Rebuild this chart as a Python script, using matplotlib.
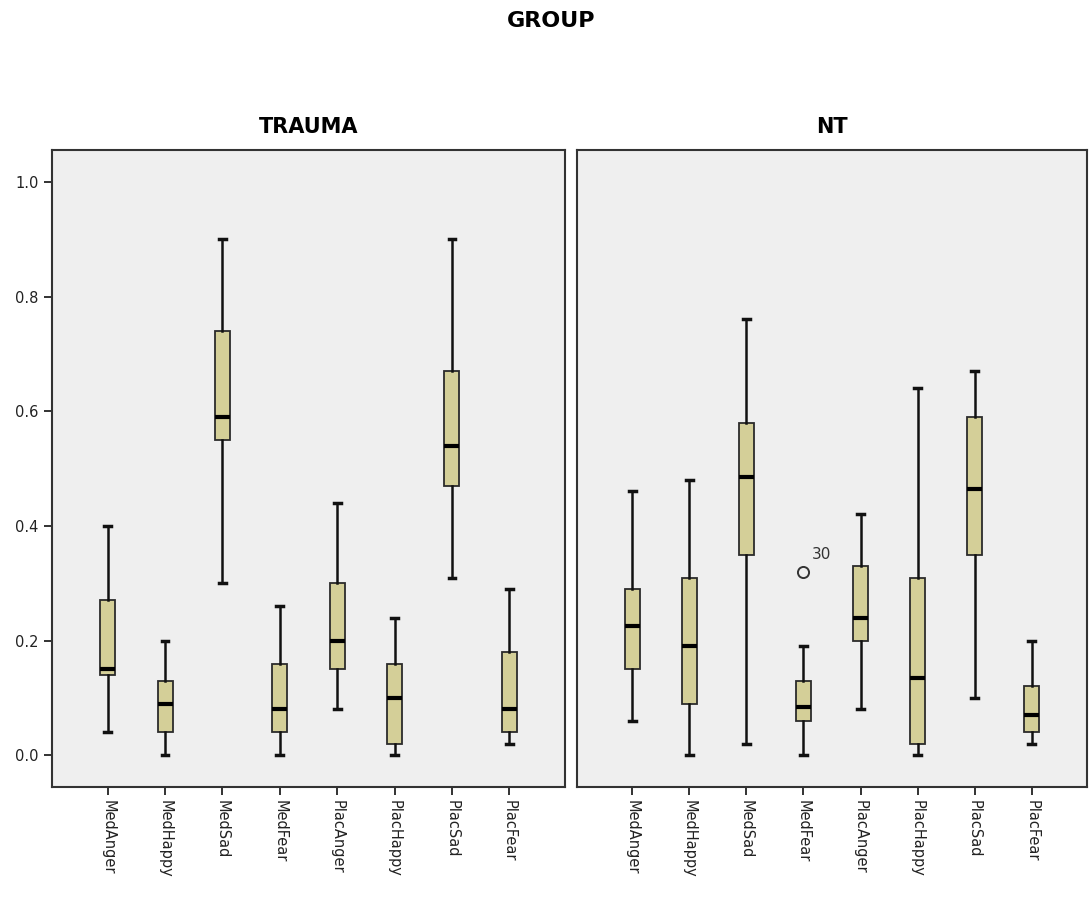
import matplotlib
matplotlib.use("Agg")
import matplotlib.pyplot as plt

categories = ["MedAnger", "MedHappy", "MedSad", "MedFear",
              "PlacAnger", "PlacHappy", "PlacSad", "PlacFear"]
groups = ["TRAUMA", "NT"]

trauma_low = [0.04, 0.00, 0.30, 0.00, 0.08, 0.00, 0.31, 0.02]
trauma_q1 = [0.14, 0.04, 0.55, 0.04, 0.15, 0.02, 0.47, 0.04]
trauma_med = [0.15, 0.09, 0.59, 0.08, 0.20, 0.10, 0.54, 0.08]
trauma_q3 = [0.27, 0.13, 0.74, 0.16, 0.30, 0.16, 0.67, 0.18]
trauma_high = [0.40, 0.20, 0.90, 0.26, 0.44, 0.24, 0.90, 0.29]

nt_low = [0.06, 0.00, 0.02, 0.00, 0.08, 0.00, 0.10, 0.02]
nt_q1 = [0.15, 0.09, 0.35, 0.06, 0.20, 0.02, 0.35, 0.04]
nt_med = [0.225, 0.19, 0.485, 0.085, 0.24, 0.135, 0.465, 0.07]
nt_q3 = [0.29, 0.31, 0.58, 0.13, 0.33, 0.31, 0.59, 0.12]
nt_high = [0.46, 0.48, 0.76, 0.19, 0.42, 0.64, 0.67, 0.20]

nt_outlier_cat = "MedFear"
nt_outlier_val = 0.32
nt_outlier_label = "30"

yticks = [0.0, 0.2, 0.4, 0.6, 0.8, 1.0]

BOX_COLOR = "#D4CF98"
BG = "#EFEFEF"
EDGE = "#2b2b2b"

fig = plt.figure(figsize=(10.89, 8.98), dpi=100)
fig.patch.set_facecolor("white")

ax_l = fig.add_axes([52 / 1089, 1 - 787 / 898, 513 / 1089, 637 / 898])
ax_r = fig.add_axes([577 / 1089, 1 - 787 / 898, 510 / 1089, 637 / 898])

def make_stats(low, q1, med, q3, high, fliers=None):
    stats = []
    for i in range(len(low)):
        stats.append(dict(whislo=low[i], q1=q1[i], med=med[i], q3=q3[i],
                          whishi=high[i], fliers=(fliers or {}).get(i, [])))
    return stats

positions = list(range(1, len(categories) + 1))
out_idx = categories.index(nt_outlier_cat)

data = [
    (ax_l, make_stats(trauma_low, trauma_q1, trauma_med, trauma_q3, trauma_high)),
    (ax_r, make_stats(nt_low, nt_q1, nt_med, nt_q3, nt_high,
                      {out_idx: [nt_outlier_val]})),
]

for (ax, stats), gname in zip(data, groups):
    ax.set_facecolor(BG)
    ax.bxp(stats, positions=positions, widths=0.26, patch_artist=True,
           boxprops=dict(facecolor=BOX_COLOR, edgecolor=EDGE, linewidth=1.3),
           medianprops=dict(color="black", linewidth=3.0, solid_capstyle="butt"),
           whiskerprops=dict(color="#111111", linewidth=1.8),
           capprops=dict(color="#111111", linewidth=2.5),
           capwidths=0.12,
           flierprops=dict(marker="o", markersize=8, markerfacecolor="none",
                           markeredgecolor="#333333", markeredgewidth=1.4))
    ax.set_xlim(0.03, 8.97)
    ax.set_ylim(-0.0553, 1.0555)
    ax.set_xticks(positions)
    ax.set_xticklabels(categories, rotation=270, fontsize=10.5, color="#222222")
    for s in ax.spines.values():
        s.set_color("#333333")
        s.set_linewidth(1.5)
    ax.tick_params(axis="x", direction="out", length=6, width=1.3, color="#222222", pad=3)
    ax.set_title(gname, fontsize=15, fontweight="bold", pad=12)

ax_l.set_yticks(yticks)
ax_l.set_yticklabels([f"{v:.1f}" for v in yticks], fontsize=10.5, color="#222222")
ax_l.tick_params(axis="y", direction="out", length=6, width=1.3, color="#222222")
ax_r.set_yticks([])

ax_r.annotate(nt_outlier_label, xy=(positions[out_idx], nt_outlier_val),
              xytext=(6, 9), textcoords="offset points", fontsize=11, color="#333333")

fig.text(551 / 1089, 1 - 21 / 898, "GROUP", ha="center", va="center",
         fontsize=16, fontweight="bold")

fig.savefig("out.png", dpi=100)
